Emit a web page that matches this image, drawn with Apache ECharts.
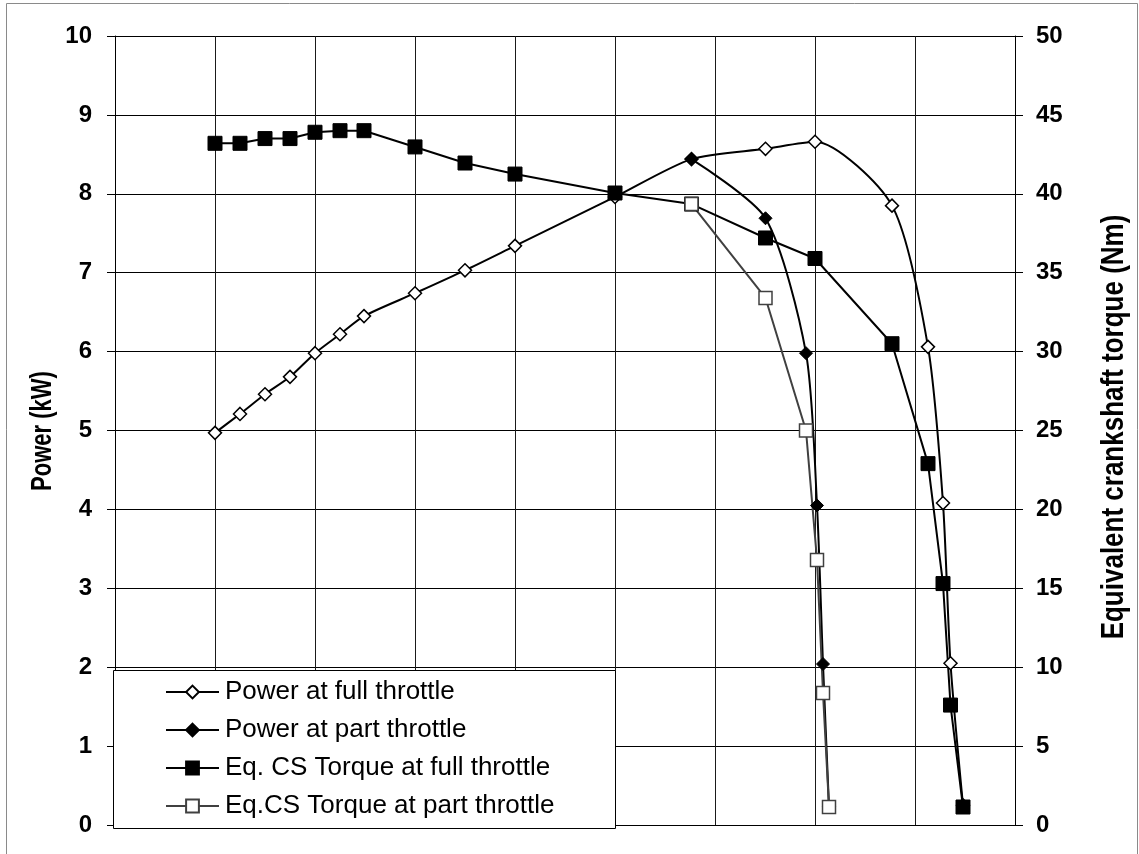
<!DOCTYPE html>
<html>
<head>
<meta charset="utf-8">
<script src="https://cdn.jsdelivr.net/npm/echarts@6/dist/echarts.min.js"></script>
<style>
html,body{margin:0;padding:0;background:#fff;}
#chart{width:1139px;height:854px;}
</style>
</head>
<body>
<div id="chart"></div>
<script>
// Engine speed (x, unlabeled in the original; gridline = 1000)
var fullX = [1000,1250,1500,1750,2000,2250,2490,3000,3500,4000,5000,5765,6505,7000,7770,8130,8280,8355,8480];
var powerFull = [4.97,5.21,5.46,5.68,5.98,6.22,6.45,6.74,7.03,7.34,7.96,8.44,8.57,8.66,7.85,6.06,4.08,2.05,0.25];
var torqueFull = [43.2,43.2,43.5,43.5,43.9,44.0,44.0,42.97,41.95,41.25,40.05,39.35,37.2,35.9,30.5,22.9,15.3,7.6,1.14];

var partPowerX = [5765,6505,6910,7020,7080,7140];
var powerPart = [8.44,7.69,5.98,4.05,2.04,0.23];

var partTorqueX = [5765,6505,6910,7020,7080,7140];
var torquePart = [39.35,33.4,25.0,16.8,8.37,1.14];

var seriesNames = ['Power at full throttle','Power at part throttle','Eq. CS Torque at full throttle','Eq.CS Torque at part throttle'];
var leftTitle = 'Power (kW)';
var rightTitle = 'Equivalent crankshaft torque (Nm)';
var powerTicks = [0,1,2,3,4,5,6,7,8,9,10];
var torqueTicks = [0,5,10,15,20,25,30,35,40,45,50];

function pairs(xs, ys){ return xs.map(function(x,i){ return [x, ys[i]]; }); }

var FONT = "'Liberation Sans', Arial, sans-serif";
var chart = echarts.init(document.getElementById('chart'));
var option = {
  backgroundColor: '#ffffff',
  animation: false,
  grid: { left: 115, right: 124, top: 36, bottom: 29, containLabel: false },
  xAxis: {
    type: 'value', min: 0, max: 9000, interval: 1000,
    axisLabel: { show: false }, axisTick: { show: false },
    axisLine: { show: true, onZero: false, lineStyle: { color: '#000', width: 1 } },
    splitLine: { show: true, lineStyle: { color: '#1a1a1a', width: 1 } }
  },
  yAxis: [
    {
      type: 'value', position: 'left', min: powerTicks[0], max: powerTicks[powerTicks.length-1], interval: 1,
      axisLine: { show: true, lineStyle: { color: '#000', width: 1 } },
      axisTick: { show: true, inside: false, length: 8, lineStyle: { color: '#000' } },
      axisLabel: { margin: 23, fontFamily: FONT, fontWeight: 'bold', fontSize: 24, color: '#000' },
      splitLine: { show: true, lineStyle: { color: '#000', width: 1 } }
    },
    {
      type: 'value', position: 'right', min: torqueTicks[0], max: torqueTicks[torqueTicks.length-1], interval: 5,
      axisLine: { show: true, lineStyle: { color: '#000', width: 1 } },
      axisTick: { show: true, inside: false, length: 8, lineStyle: { color: '#000' } },
      axisLabel: { margin: 21, fontFamily: FONT, fontWeight: 'bold', fontSize: 24, color: '#000' },
      splitLine: { show: false }
    }
  ],
  legend: {
    orient: 'vertical', left: 165, top: 679, padding: 0,
    itemWidth: 53, itemHeight: 16, itemGap: 12,
    textStyle: { fontFamily: FONT, fontSize: 26, color: '#000', lineHeight: 26, padding: [0,0,0,1] },
    data: seriesNames, z: 10
  },
  graphic: [
    { type: 'rect', z: 5, silent: true,
      shape: { x: 113.5, y: 670.5, width: 502, height: 158 },
      style: { fill: '#fff', stroke: '#000', lineWidth: 1 } },
    { type: 'rect', z: 100, silent: true,
      shape: { x: 6.5, y: 3.5, width: 1131, height: 900 },
      style: { fill: 'none', stroke: '#8a8a8a', lineWidth: 1 } },
    { type: 'text', z: 10, silent: true, x: 43, y: 431, rotation: Math.PI / 2, scaleY: 1.35,
      style: { text: leftTitle, font: "bold 22px 'Liberation Sans', Arial, sans-serif", fill: '#000',
               textAlign: 'center', textVerticalAlign: 'middle' } },
    { type: 'text', z: 10, silent: true, x: 1114, y: 427, rotation: Math.PI / 2, scaleY: 1.22,
      style: { text: rightTitle, font: "bold 26px 'Liberation Sans', Arial, sans-serif", fill: '#000',
               textAlign: 'center', textVerticalAlign: 'middle' } }
  ],
  series: [
    {
      name: seriesNames[0], type: 'line', yAxisIndex: 0, smooth: 0.25,
      data: pairs(fullX, powerFull),
      symbol: 'diamond', symbolSize: 13, showSymbol: true,
      lineStyle: { color: '#000', width: 2 },
      itemStyle: { color: '#fff', borderColor: '#000', borderWidth: 1.5 }, z: 2
    },
    {
      name: seriesNames[1], type: 'line', yAxisIndex: 0, smooth: 0.25,
      data: pairs(partPowerX, powerPart),
      symbol: 'diamond', symbolSize: 13, showSymbol: true,
      lineStyle: { color: '#000', width: 2 },
      itemStyle: { color: '#000', borderColor: '#000', borderWidth: 1 }, z: 2
    },
    {
      name: seriesNames[2], type: 'line', yAxisIndex: 1, smooth: false,
      data: pairs(fullX, torqueFull),
      symbol: 'rect', symbolSize: 14, showSymbol: true,
      lineStyle: { color: '#000', width: 2 },
      itemStyle: { color: '#000', borderColor: '#000', borderWidth: 1 }, z: 2
    },
    {
      name: seriesNames[3], type: 'line', yAxisIndex: 1, smooth: false,
      data: pairs(partTorqueX, torquePart),
      symbol: 'rect', symbolSize: 13, showSymbol: true,
      lineStyle: { color: '#404040', width: 2 },
      itemStyle: { color: '#fff', borderColor: '#404040', borderWidth: 1.5 }, z: 2
    }
  ]
};
chart.setOption(option);
</script>
</body>
</html>
